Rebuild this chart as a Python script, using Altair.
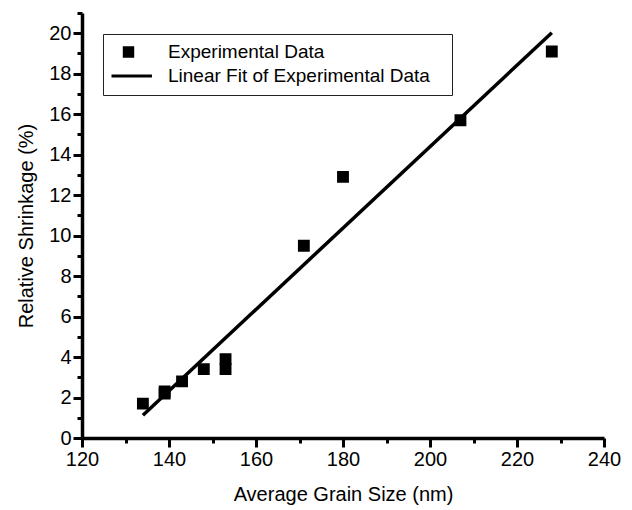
import altair as alt
import pandas as pd

# Data
grain_size = [134, 139, 139, 143, 148, 153, 153, 171, 180, 207, 228]
shrinkage = [1.7, 2.2, 2.3, 2.8, 3.4, 3.4, 3.9, 9.5, 12.9, 15.7, 19.1]
series_names = ["Experimental Data", "Linear Fit of Experimental Data"]
x_ticks = list(range(120, 241, 10))
y_ticks = list(range(0, 22, 1))

df = pd.DataFrame({"grain": grain_size, "shrink": shrinkage, "series": series_names[0]})

FONT = "Liberation Sans"
square_path = "M-0.18,-0.18H0.18V0.18H-0.18Z"
line_path = "M-1,0H1"

x_enc = alt.X(
    "grain:Q",
    scale=alt.Scale(domain=[120, 240], nice=False, zero=False),
    axis=alt.Axis(
        title="Average Grain Size (nm)",
        values=x_ticks,
        labelExpr="datum.value % 20 === 0 ? datum.label : ''",
        tickSize={"condition": {"test": "datum.value % 20 === 0", "value": 9}, "value": 5},
        labelFontSize=20,
        titleFontSize=20,
        labelPadding=2,
        titlePadding=15,
        labelFlush=False,
        labelOverlap=False,
    ),
)
y_enc = alt.Y(
    "shrink:Q",
    scale=alt.Scale(domain=[0, 21], nice=False, zero=True),
    axis=alt.Axis(
        title="Relative Shrinkage (%)",
        values=y_ticks,
        labelExpr="datum.value % 2 === 0 ? datum.label : ''",
        tickSize={"condition": {"test": "datum.value % 2 === 0", "value": 9}, "value": 5},
        labelFontSize=20,
        titleFontSize=20,
        labelPadding=2,
        titlePadding=12,
        labelOverlap=False,
    ),
)

points = alt.Chart(df).mark_point(
    filled=True, size=2700, opacity=1, color="black", stroke="black", strokeWidth=2.5
).encode(
    x=x_enc,
    y=y_enc,
    shape=alt.Shape(
        "series:N",
        scale=alt.Scale(domain=series_names, range=[square_path, line_path]),
        legend=alt.Legend(
            title="\u00a0",
            titleOrient="right",
            titleFontSize=1,
            titlePadding=14,
            orient="none",
            legendX=21,
            legendY=21,
            symbolSize=2200,
            symbolStrokeWidth=3,
            symbolOffset=-8,
            labelOffset=14.5,
            labelFontSize=19,
            labelFont=FONT,
            labelColor="black",
            labelLimit=400,
            clipHeight=19,
            rowPadding=4,
            padding=8.5,
            strokeColor="#222222",
            fillColor="white",
            cornerRadius=0,
        ),
    ),
)

fit = alt.Chart(df).transform_regression(
    "grain", "shrink", extent=[134, 228]
).mark_line(color="black", strokeWidth=3.5).encode(
    x=x_enc,
    y=y_enc,
)

chart = (
    alt.layer(fit, points)
    .properties(
        width=522,
        height=425,
        autosize=alt.AutoSizeParams(type="none"),
        padding={"left": 74, "top": 5, "right": 20, "bottom": 72},
    )
    .configure(font=FONT)
    .configure_axis(
        domainWidth=3.5, tickWidth=3, domainColor="black", tickColor="black",
        labelColor="black", titleColor="black", titleFontWeight="normal", grid=False,
    )
    .configure_view(stroke=None)
)

chart.save("out.html", embed_options={"renderer": "svg", "actions": False})
